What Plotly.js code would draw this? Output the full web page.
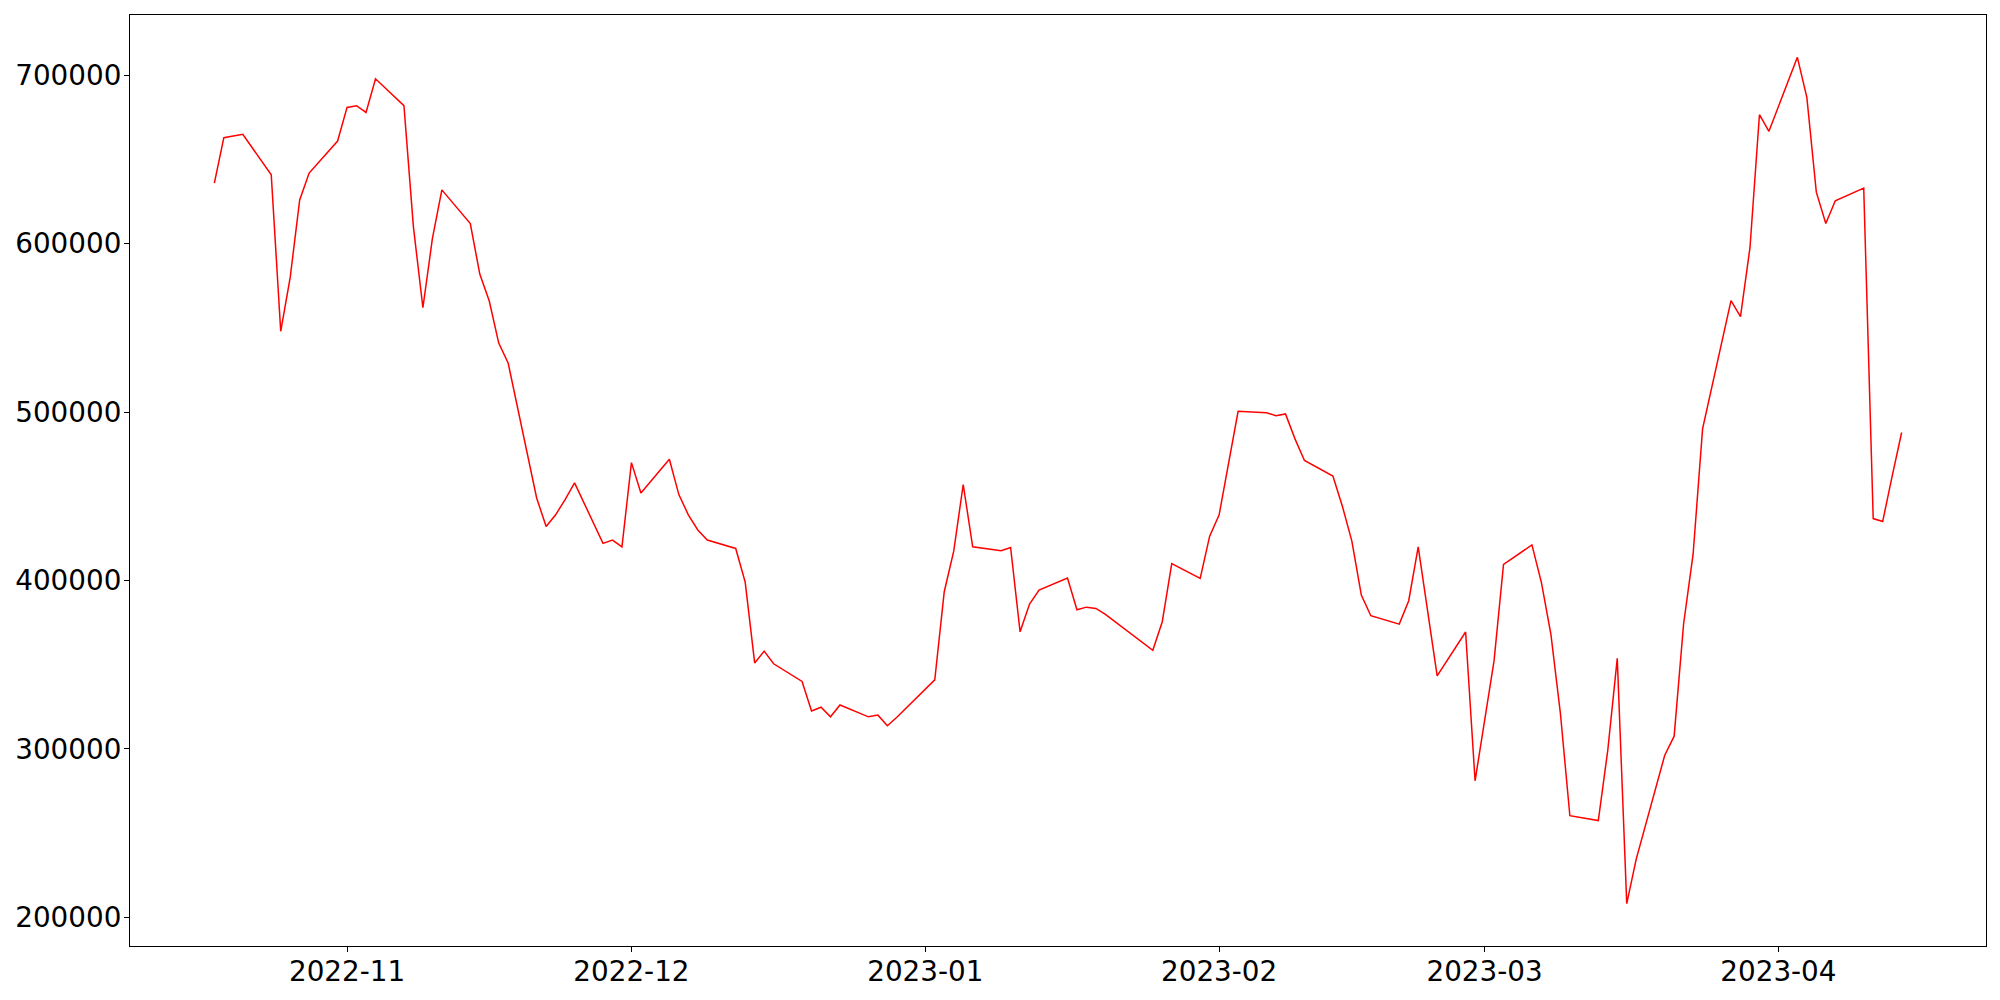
<!DOCTYPE html>
<html>
<head>
<meta charset="utf-8">
<script src="https://cdn.plot.ly/plotly-3.0.1.min.js"></script>
<style>html,body{margin:0;padding:0;background:#fff;}#chart{width:2000px;height:1000px;}</style>
</head>
<body>
<div id="chart"></div>
<script>
const dates = [
"2022-10-18","2022-10-19","2022-10-21","2022-10-24","2022-10-25","2022-10-26","2022-10-27","2022-10-28",
"2022-10-31","2022-11-01","2022-11-02","2022-11-03","2022-11-04","2022-11-07","2022-11-08","2022-11-09",
"2022-11-10","2022-11-11","2022-11-14","2022-11-15","2022-11-16","2022-11-17","2022-11-18","2022-11-21",
"2022-11-22","2022-11-23","2022-11-24","2022-11-25","2022-11-28","2022-11-29","2022-11-30","2022-12-01",
"2022-12-02","2022-12-05","2022-12-06","2022-12-07","2022-12-08","2022-12-09","2022-12-12","2022-12-13",
"2022-12-14","2022-12-15","2022-12-16","2022-12-19","2022-12-20","2022-12-21","2022-12-22","2022-12-23",
"2022-12-26","2022-12-27","2022-12-28","2022-12-29","2023-01-02","2023-01-03","2023-01-04","2023-01-05",
"2023-01-06","2023-01-09","2023-01-10","2023-01-11","2023-01-12","2023-01-13","2023-01-16","2023-01-17",
"2023-01-18","2023-01-19","2023-01-20","2023-01-25","2023-01-26","2023-01-27","2023-01-30","2023-01-31",
"2023-02-01","2023-02-03","2023-02-06","2023-02-07","2023-02-08","2023-02-09","2023-02-10","2023-02-13",
"2023-02-14","2023-02-15","2023-02-16","2023-02-17","2023-02-20","2023-02-21","2023-02-22","2023-02-24",
"2023-02-27","2023-02-28","2023-03-02","2023-03-03","2023-03-06","2023-03-07","2023-03-08","2023-03-09",
"2023-03-10","2023-03-13","2023-03-14","2023-03-15","2023-03-16","2023-03-17","2023-03-20","2023-03-21",
"2023-03-22","2023-03-23","2023-03-24","2023-03-27","2023-03-28","2023-03-29","2023-03-30","2023-03-31",
"2023-04-03","2023-04-04","2023-04-05","2023-04-06","2023-04-07","2023-04-10","2023-04-11","2023-04-12",
"2023-04-13","2023-04-14"
];
const values = [
636000,663000,665000,641000,548000,580000,626000,642000,
661000,681000,682000,678000,698000,682000,610000,562000,
603000,632000,612000,582000,566000,541000,529000,449000,
432000,439000,448000,458000,422000,424000,420000,470000,
452000,472000,451000,439000,430000,424000,419000,399000,
351000,358000,350500,340000,322500,324700,319000,326000,
319000,320000,313700,318700,341000,393300,417400,457000,
420000,417600,419600,369500,386000,394250,401400,382600,
384150,383400,379800,358500,375500,410000,401200,426300,
439000,500500,499600,497900,498900,484100,471250,462000,
444100,423350,391300,379050,374050,387950,420000,343300,
369400,281000,352200,409500,421100,398700,368000,321100,
260250,257400,299250,353750,208000,234500,296000,307500,
374300,415600,490000,566250,556750,597650,676650,666800,
710750,686950,630650,612000,625550,633100,436750,435000,
462000,487900
];
const yTicks = [200000,300000,400000,500000,600000,700000];

// matplotlib-like 5% margins
const t0 = new Date(dates[0]+"T00:00:00Z").getTime();
const t1 = new Date(dates[dates.length-1]+"T00:00:00Z").getTime();
const dt = (t1-t0)*0.05;
const fmt = t => new Date(t).toISOString().replace("T"," ").slice(0,19);
const vmin = Math.min(...values), vmax = Math.max(...values);
const dv = (vmax-vmin)*0.05;

const trace = {
  x: dates, y: values, type: "scatter", mode: "lines",
  line: {color: "red", width: 1.5}, hoverinfo: "x+y"
};
const axisFont = {family: "DejaVu Sans", size: 27.8, color: "#000"};
const layout = {
  width: 2000, height: 1000,
  margin: {l: 130, r: 14, t: 15, b: 54, pad: 0},
  paper_bgcolor: "#fff", plot_bgcolor: "#fff",
  showlegend: false,
  xaxis: {
    type: "date", range: [fmt(t0-dt), fmt(t1+dt)],
    dtick: "M1", tick0: "2022-11-01", tickformat: "%Y-%m",
    ticks: "outside", ticklen: 5, tickwidth: 1.1, tickcolor: "#000",
    ticklabelstandoff: -4,
    showline: true, mirror: true, linecolor: "#000", linewidth: 1.1,
    showgrid: false, zeroline: false, tickfont: axisFont
  },
  yaxis: {
    range: [vmin-dv, vmax+dv],
    tickvals: yTicks, ticktext: yTicks.map(String),
    ticks: "outside", ticklen: 5, tickwidth: 1.1, tickcolor: "#000",
    ticklabelstandoff: -3,
    showline: true, mirror: true, linecolor: "#000", linewidth: 1.1,
    showgrid: false, zeroline: false, tickfont: axisFont
  }
};
Plotly.newPlot("chart", [trace], layout, {displayModeBar: false, staticPlot: true});
</script>
</body>
</html>
